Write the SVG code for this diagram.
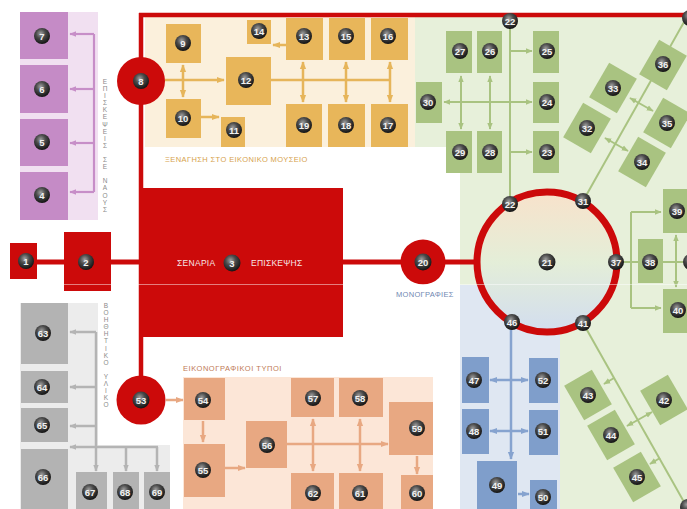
<svg xmlns="http://www.w3.org/2000/svg" width="687" height="509" viewBox="0 0 687 509">
<defs>
<radialGradient id="ball" cx="0.42" cy="0.35" r="0.65">
<stop offset="0" stop-color="#a0a0a0"/><stop offset="0.45" stop-color="#4a4a4a"/><stop offset="1" stop-color="#141414"/>
</radialGradient>
<linearGradient id="ringfill" x1="0" y1="0" x2="0" y2="1">
<stop offset="0" stop-color="#f8e2cb"/><stop offset="0.5" stop-color="#e4eed8"/><stop offset="1" stop-color="#d2ddef"/>
</linearGradient>
<marker id="ap" viewBox="0 0 10 10" refX="9" refY="5" markerWidth="7" markerHeight="7" markerUnits="userSpaceOnUse" orient="auto-start-reverse"><path d="M0,1 L10,5 L0,9 z" fill="#c78ec8"/></marker>
<marker id="ao" viewBox="0 0 10 10" refX="9" refY="5" markerWidth="8" markerHeight="8" markerUnits="userSpaceOnUse" orient="auto-start-reverse"><path d="M0,1 L10,5 L0,9 z" fill="#e6b55a"/></marker>
<marker id="ag" viewBox="0 0 10 10" refX="9" refY="5" markerWidth="7" markerHeight="7" markerUnits="userSpaceOnUse" orient="auto-start-reverse"><path d="M0,1 L10,5 L0,9 z" fill="#a9c381"/></marker>
<marker id="ab" viewBox="0 0 10 10" refX="9" refY="5" markerWidth="8" markerHeight="8" markerUnits="userSpaceOnUse" orient="auto-start-reverse"><path d="M0,1 L10,5 L0,9 z" fill="#86a3cf"/></marker>
<marker id="as" viewBox="0 0 10 10" refX="9" refY="5" markerWidth="8" markerHeight="8" markerUnits="userSpaceOnUse" orient="auto-start-reverse"><path d="M0,1 L10,5 L0,9 z" fill="#e8a882"/></marker>
<marker id="ay" viewBox="0 0 10 10" refX="9" refY="5" markerWidth="7" markerHeight="7" markerUnits="userSpaceOnUse" orient="auto-start-reverse"><path d="M0,1 L10,5 L0,9 z" fill="#b4b4b4"/></marker>
</defs>
<style>
.b{fill:url(#ball)}
.n{font-family:"Liberation Sans",Arial,sans-serif;font-weight:bold;font-size:9.5px;fill:#f2f2f2;text-anchor:middle;dominant-baseline:central}
.red{fill:#cc0a0a}
.sp{fill:#c58bc6}.so{fill:#e8b65a}.sg{fill:#a9c381}.sb{fill:#7f9ecb}.ss{fill:#e8a882}.sy{fill:#b3b3b3}
.lp{stroke:#c78ec8;stroke-width:2.2;fill:none}
.lo{stroke:#e6b55a;stroke-width:2.5;fill:none}
.lg{stroke:#a9c381;stroke-width:2;fill:none}
.lb{stroke:#86a3cf;stroke-width:2.5;fill:none}
.ls{stroke:#e8a882;stroke-width:2.5;fill:none}
.ly{stroke:#b4b4b4;stroke-width:2.5;fill:none}
.t{font-family:"Liberation Sans",Arial,sans-serif;font-size:7.5px;letter-spacing:0.6px}
.t8{font-family:"Liberation Sans",Arial,sans-serif;font-size:8.5px;letter-spacing:0.8px}
.vt{font-family:"Liberation Sans",Arial,sans-serif;font-size:6.5px;fill:#8a8a8a;writing-mode:vertical-rl;text-orientation:upright;letter-spacing:0.1px}
</style>
<rect width="687" height="509" fill="#ffffff"/>
<!-- background panels -->
<rect x="20" y="12" width="78" height="208" fill="#f1e0f1"/>
<rect x="20" y="303" width="78" height="206" fill="#ececec"/>
<rect x="68" y="445" width="102" height="64" fill="#ececec"/>
<rect x="145" y="17" width="270" height="130" fill="#fbf0dc"/>
<path d="M415,17 H687 V509 H460 V147 H415 Z" fill="#e7f0da"/>
<rect x="460" y="285" width="100" height="224" fill="#dfe7f2"/>
<rect x="183" y="377" width="250" height="132" fill="#fce6d7"/>

<!-- labels -->
<text class="vt" x="105" y="78">ΕΠΙΣΚΕΨΕΙΣ ΣΕ ΝΑΟΥΣ</text>
<text class="vt" x="106" y="302">ΒΟΗΘΗΤΙΚΟ ΥΛΙΚΟ</text>
<text class="t" x="165" y="162" fill="#d6a24c" textLength="143" lengthAdjust="spacing">ΞΕΝΑΓΗΣΗ ΣΤΟ ΕΙΚΟΝΙΚΟ ΜΟΥΣΕΙΟ</text>
<text class="t" x="183" y="371" fill="#c07a55" textLength="99" lengthAdjust="spacing">ΕΙΚΟΝΟΓΡΑΦΙΚΟΙ ΤΥΠΟΙ</text>
<text class="t" x="396" y="297" fill="#6f88b2" textLength="58" lengthAdjust="spacing">ΜΟΝΟΓΡΑΦΙΕΣ</text>

<!-- red spine -->
<g id="spine">
<path d="M141,13 V382" stroke="#cc0a0a" stroke-width="4.5" fill="none"/>
<path d="M139,15 H687" stroke="#cc0a0a" stroke-width="4.5" fill="none"/>
<path d="M36,262 H482" stroke="#cc0a0a" stroke-width="5" fill="none"/>
</g>

<g id="connectors">
<!-- purple -->
<path class="lp" d="M94,34 V192"/>
<path class="lp" d="M94,34 H70" marker-end="url(#ap)"/>
<path class="lp" d="M94,89 H70" marker-end="url(#ap)"/>
<path class="lp" d="M94,143 H70" marker-end="url(#ap)"/>
<path class="lp" d="M94,192 H70" marker-end="url(#ap)"/>
<!-- orange -->
<path class="lo" d="M165,80 H224" marker-end="url(#ao)"/>
<path class="lo" d="M183,65 V97" marker-start="url(#ao)" marker-end="url(#ao)"/>
<path class="lo" d="M201,117 H219" marker-end="url(#ao)"/>
<path class="lo" d="M286,45 H273" marker-end="url(#ao)"/>
<path class="lo" d="M271,80 H391"/>
<path class="lo" d="M303,62 V102" marker-start="url(#ao)" marker-end="url(#ao)"/>
<path class="lo" d="M346,62 V102" marker-start="url(#ao)" marker-end="url(#ao)"/>
<path class="lo" d="M390,62 V102" marker-start="url(#ao)" marker-end="url(#ao)"/>
<!-- green -->
<path class="lg" d="M510,21 V197"/>
<path class="lg" d="M510,51 H532" marker-end="url(#ag)"/>
<path class="lg" d="M510,152 H532" marker-end="url(#ag)"/>
<path class="lg" d="M444,102 H532" marker-start="url(#ag)" marker-end="url(#ag)"/>
<path class="lg" d="M461,76 V129" marker-start="url(#ag)" marker-end="url(#ag)"/>
<path class="lg" d="M490,76 V129" marker-start="url(#ag)" marker-end="url(#ag)"/>
<path class="lg" d="M583,201 L688,15"/>
<path class="lg" d="M630,98 L653,111" marker-start="url(#ag)" marker-end="url(#ag)"/>
<path class="lg" d="M605,138 L628,151" marker-start="url(#ag)" marker-end="url(#ag)"/>
<path class="lg" d="M616,262 H687"/>
<path class="lg" d="M631,212 V308"/>
<path class="lg" d="M631,212 H661" marker-end="url(#ag)"/>
<path class="lg" d="M631,308 H661" marker-end="url(#ag)"/>
<path class="lg" d="M676,235 V287" marker-start="url(#ag)" marker-end="url(#ag)"/>
<path class="lg" d="M583,323 L688,509"/>
<path class="lg" d="M614,378 L604,384" marker-end="url(#ag)"/>
<path class="lg" d="M652,412 L627,426" marker-start="url(#ag)" marker-end="url(#ag)"/>
<path class="lg" d="M660,458 L650,464" marker-end="url(#ag)"/>
<!-- blue -->
<path class="lb" d="M511,330 V459" marker-end="url(#ab)"/>
<path class="lb" d="M490,380 H528" marker-start="url(#ab)" marker-end="url(#ab)"/>
<path class="lb" d="M490,431 H528" marker-start="url(#ab)" marker-end="url(#ab)"/>
<path class="lb" d="M518,494 H529" marker-end="url(#ab)"/>
<!-- salmon -->
<path class="ls" d="M166,400 H183" marker-end="url(#as)"/>
<path class="ls" d="M203,421 V442" marker-end="url(#as)"/>
<path class="ls" d="M225,468 H245" marker-end="url(#as)"/>
<path class="ls" d="M287,444 H388" marker-end="url(#as)"/>
<path class="ls" d="M313,419 V471" marker-start="url(#as)" marker-end="url(#as)"/>
<path class="ls" d="M360,419 V471" marker-start="url(#as)" marker-end="url(#as)"/>
<path class="ls" d="M417,456 V474" marker-end="url(#as)"/>
<!-- grey -->
<path class="ly" d="M96,332 V447"/>
<path class="ly" d="M96,332 H70" marker-end="url(#ay)"/>
<path class="ly" d="M96,387 H70" marker-end="url(#ay)"/>
<path class="ly" d="M96,426 H70" marker-end="url(#ay)"/>
<path class="ly" d="M158,447 H70" marker-end="url(#ay)"/>
<path class="ly" d="M96,447 V471" marker-end="url(#ay)"/>
<path class="ly" d="M126,447 V471" marker-end="url(#ay)"/>
<path class="ly" d="M157,447 V471" marker-end="url(#ay)"/>
</g>

<!-- red nodes -->
<g id="n1"><rect class="red" x="10" y="243" width="27" height="36"/><circle class="b" cx="26" cy="261" r="8"/><text class="n" x="26" y="261">1</text></g>
<g id="n2"><rect class="red" x="64" y="232" width="47" height="59"/><circle class="b" cx="86" cy="262" r="8"/><text class="n" x="86" y="262">2</text></g>
<g id="n3"><rect class="red" x="143" y="188" width="200" height="149"/>
<text class="t8" x="177" y="266" fill="#f6e6e6" textLength="39" lengthAdjust="spacing">ΣΕΝΑΡΙΑ</text>
<circle class="b" cx="232" cy="263" r="8.5"/><text class="n" x="232" y="263">3</text>
<text class="t8" x="251" y="266" fill="#f6e6e6" textLength="52" lengthAdjust="spacing">ΕΠΙΣΚΕΨΗΣ</text></g>
<g id="n8"><circle class="red" cx="141" cy="81" r="24"/><circle class="b" cx="141" cy="81" r="8"/><text class="n" x="141" y="81">8</text></g>
<g id="n53"><circle class="red" cx="141" cy="400" r="24.5"/><circle class="b" cx="141" cy="400" r="8.5"/><text class="n" x="141" y="400">53</text></g>
<g id="n20"><circle class="red" cx="423" cy="262" r="22.5"/><circle class="b" cx="423" cy="262" r="8.5"/><text class="n" x="423" y="262">20</text></g>
<g id="n21"><circle cx="547" cy="262" r="70" fill="url(#ringfill)" stroke="#cc0a0a" stroke-width="7"/><circle class="b" cx="547" cy="262" r="8.5"/><text class="n" x="547" y="262">21</text></g>

<!-- purple -->
<g id="n7"><rect class="sp" x="20" y="12" width="48" height="47"/><circle class="b" cx="42" cy="36" r="8"/><text class="n" x="42" y="36">7</text></g>
<g id="n6"><rect class="sp" x="20" y="65" width="48" height="48"/><circle class="b" cx="42" cy="89" r="8"/><text class="n" x="42" y="89">6</text></g>
<g id="n5"><rect class="sp" x="20" y="119" width="48" height="47"/><circle class="b" cx="42" cy="142" r="8"/><text class="n" x="42" y="142">5</text></g>
<g id="n4"><rect class="sp" x="20" y="172" width="48" height="48"/><circle class="b" cx="42" cy="195" r="8"/><text class="n" x="42" y="195">4</text></g>

<!-- orange -->
<g id="n9"><rect class="so" x="166" y="24" width="35" height="39"/><circle class="b" cx="183" cy="43" r="8"/><text class="n" x="183" y="43">9</text></g>
<g id="n10"><rect class="so" x="166" y="99" width="35" height="39"/><circle class="b" cx="183" cy="118" r="8"/><text class="n" x="183" y="118">10</text></g>
<g id="n11"><rect class="so" x="221" y="117" width="24" height="30"/><circle class="b" cx="234" cy="130" r="8"/><text class="n" x="234" y="130">11</text></g>
<g id="n12"><rect class="so" x="226" y="57" width="45" height="48"/><circle class="b" cx="246" cy="80" r="8"/><text class="n" x="246" y="80">12</text></g>
<g id="n14"><rect class="so" x="247" y="20" width="24" height="24"/><circle class="b" cx="259" cy="31" r="8"/><text class="n" x="259" y="31">14</text></g>
<g id="n13"><rect class="so" x="286" y="18" width="37" height="42"/><circle class="b" cx="304" cy="36" r="8"/><text class="n" x="304" y="36">13</text></g>
<g id="n15"><rect class="so" x="329" y="18" width="36" height="42"/><circle class="b" cx="346" cy="36" r="8"/><text class="n" x="346" y="36">15</text></g>
<g id="n16"><rect class="so" x="371" y="18" width="37" height="42"/><circle class="b" cx="388" cy="36" r="8"/><text class="n" x="388" y="36">16</text></g>
<g id="n19"><rect class="so" x="286" y="104" width="36" height="43"/><circle class="b" cx="304" cy="125" r="8"/><text class="n" x="304" y="125">19</text></g>
<g id="n18"><rect class="so" x="328" y="104" width="37" height="43"/><circle class="b" cx="346" cy="125" r="8"/><text class="n" x="346" y="125">18</text></g>
<g id="n17"><rect class="so" x="371" y="104" width="37" height="43"/><circle class="b" cx="388" cy="125" r="8"/><text class="n" x="388" y="125">17</text></g>

<!-- green -->
<g id="n22a"><circle class="b" cx="510" cy="21" r="8"/><text class="n" x="510" y="21">22</text></g>
<g id="n27"><rect class="sg" x="446" y="31" width="26" height="42"/><circle class="b" cx="460" cy="51" r="8"/><text class="n" x="460" y="51">27</text></g>
<g id="n26"><rect class="sg" x="477" y="31" width="25" height="42"/><circle class="b" cx="490" cy="51" r="8"/><text class="n" x="490" y="51">26</text></g>
<g id="n25"><rect class="sg" x="533" y="31" width="26" height="42"/><circle class="b" cx="547" cy="51" r="8"/><text class="n" x="547" y="51">25</text></g>
<g id="n30"><rect class="sg" x="416" y="82" width="26" height="41"/><circle class="b" cx="428" cy="102" r="8"/><text class="n" x="428" y="102">30</text></g>
<g id="n24"><rect class="sg" x="533" y="82" width="26" height="41"/><circle class="b" cx="547" cy="102" r="8"/><text class="n" x="547" y="102">24</text></g>
<g id="n29"><rect class="sg" x="446" y="131" width="26" height="42"/><circle class="b" cx="460" cy="152" r="8"/><text class="n" x="460" y="152">29</text></g>
<g id="n28"><rect class="sg" x="477" y="131" width="25" height="42"/><circle class="b" cx="490" cy="152" r="8"/><text class="n" x="490" y="152">28</text></g>
<g id="n23"><rect class="sg" x="533" y="131" width="26" height="42"/><circle class="b" cx="547" cy="152" r="8"/><text class="n" x="547" y="152">23</text></g>
<g id="n33"><rect class="sg" x="-16" y="-20" width="32" height="40" transform="translate(613,88) rotate(30)"/><circle class="b" cx="613" cy="88" r="8"/><text class="n" x="613" y="88">33</text></g>
<g id="n32"><rect class="sg" x="-16" y="-20" width="32" height="40" transform="translate(587,128) rotate(30)"/><circle class="b" cx="587" cy="128" r="8"/><text class="n" x="587" y="128">32</text></g>
<g id="n36"><rect class="sg" x="-16" y="-20" width="32" height="40" transform="translate(663,65) rotate(30)"/><circle class="b" cx="663" cy="64" r="8"/><text class="n" x="663" y="64">36</text></g>
<g id="n35"><rect class="sg" x="-16" y="-20" width="32" height="40" transform="translate(667,123) rotate(30)"/><circle class="b" cx="667" cy="123" r="8"/><text class="n" x="667" y="123">35</text></g>
<g id="n34"><rect class="sg" x="-16" y="-20" width="32" height="40" transform="translate(642,162) rotate(30)"/><circle class="b" cx="642" cy="162" r="8"/><text class="n" x="642" y="162">34</text></g>
<g id="nTR"><circle class="b" cx="690" cy="18" r="8"/></g>
<g id="n22"><circle class="b" cx="510" cy="204" r="8"/><text class="n" x="510" y="204">22</text></g>
<g id="n31"><circle class="b" cx="583" cy="201" r="8"/><text class="n" x="583" y="201">31</text></g>
<g id="n37"><circle class="b" cx="616" cy="262" r="8"/><text class="n" x="616" y="262">37</text></g>
<g id="n41"><circle class="b" cx="583" cy="323" r="8"/><text class="n" x="583" y="323">41</text></g>
<g id="n46"><circle class="b" cx="512" cy="322" r="8"/><text class="n" x="512" y="322">46</text></g>
<g id="n38"><rect class="sg" x="638" y="239" width="25" height="44"/><circle class="b" cx="650" cy="262" r="8"/><text class="n" x="650" y="262">38</text></g>
<g id="n39"><rect class="sg" x="663" y="189" width="26" height="44"/><circle class="b" cx="677" cy="211" r="8"/><text class="n" x="677" y="211">39</text></g>
<g id="n40"><rect class="sg" x="663" y="289" width="26" height="44"/><circle class="b" cx="678" cy="310" r="8"/><text class="n" x="678" y="310">40</text></g>
<g id="nR"><circle class="b" cx="691" cy="262" r="8"/></g>
<g id="n43"><rect class="sg" x="-16" y="-20" width="32" height="40" transform="translate(588,395) rotate(-30)"/><circle class="b" cx="588" cy="395" r="8"/><text class="n" x="588" y="395">43</text></g>
<g id="n42"><rect class="sg" x="-16" y="-20" width="32" height="40" transform="translate(664,400) rotate(-30)"/><circle class="b" cx="664" cy="400" r="8"/><text class="n" x="664" y="400">42</text></g>
<g id="n44"><rect class="sg" x="-16" y="-20" width="32" height="40" transform="translate(611,435) rotate(-30)"/><circle class="b" cx="611" cy="435" r="8"/><text class="n" x="611" y="435">44</text></g>
<g id="n45"><rect class="sg" x="-16" y="-20" width="32" height="40" transform="translate(637,477) rotate(-30)"/><circle class="b" cx="637" cy="477" r="8"/><text class="n" x="637" y="477">45</text></g>
<g id="nBR"><circle class="b" cx="688" cy="507" r="8"/></g>

<!-- blue -->
<g id="n47"><rect class="sb" x="462" y="357" width="27" height="46"/><circle class="b" cx="474" cy="380" r="8"/><text class="n" x="474" y="380">47</text></g>
<g id="n52"><rect class="sb" x="529" y="358" width="29" height="45"/><circle class="b" cx="543" cy="380" r="8"/><text class="n" x="543" y="380">52</text></g>
<g id="n48"><rect class="sb" x="462" y="409" width="27" height="45"/><circle class="b" cx="474" cy="431" r="8"/><text class="n" x="474" y="431">48</text></g>
<g id="n51"><rect class="sb" x="529" y="410" width="29" height="45"/><circle class="b" cx="543" cy="431" r="8"/><text class="n" x="543" y="431">51</text></g>
<g id="n49"><rect class="sb" x="477" y="461" width="40" height="48"/><circle class="b" cx="497" cy="485" r="8"/><text class="n" x="497" y="485">49</text></g>
<g id="n50"><rect class="sb" x="530" y="480" width="27" height="29"/><circle class="b" cx="543" cy="497" r="8"/><text class="n" x="543" y="497">50</text></g>

<!-- salmon -->
<g id="n54"><rect class="ss" x="184" y="378" width="41" height="42"/><circle class="b" cx="203" cy="400" r="8"/><text class="n" x="203" y="400">54</text></g>
<g id="n55"><rect class="ss" x="184" y="444" width="41" height="53"/><circle class="b" cx="203" cy="470" r="8"/><text class="n" x="203" y="470">55</text></g>
<g id="n56"><rect class="ss" x="246" y="421" width="41" height="47"/><circle class="b" cx="267" cy="445" r="8"/><text class="n" x="267" y="445">56</text></g>
<g id="n57"><rect class="ss" x="291" y="378" width="43" height="39"/><circle class="b" cx="313" cy="398" r="8"/><text class="n" x="313" y="398">57</text></g>
<g id="n58"><rect class="ss" x="339" y="378" width="44" height="39"/><circle class="b" cx="360" cy="398" r="8"/><text class="n" x="360" y="398">58</text></g>
<g id="n59"><rect class="ss" x="389" y="402" width="44" height="53"/><circle class="b" cx="417" cy="428" r="8"/><text class="n" x="417" y="428">59</text></g>
<g id="n62"><rect class="ss" x="291" y="473" width="43" height="36"/><circle class="b" cx="313" cy="493" r="8"/><text class="n" x="313" y="493">62</text></g>
<g id="n61"><rect class="ss" x="339" y="473" width="44" height="36"/><circle class="b" cx="360" cy="493" r="8"/><text class="n" x="360" y="493">61</text></g>
<g id="n60"><rect class="ss" x="401" y="475" width="32" height="34"/><circle class="b" cx="417" cy="493" r="8"/><text class="n" x="417" y="493">60</text></g>

<!-- grey -->
<g id="n63"><rect class="sy" x="21" y="303" width="47" height="61"/><circle class="b" cx="43" cy="333" r="8"/><text class="n" x="43" y="333">63</text></g>
<g id="n64"><rect class="sy" x="21" y="371" width="47" height="32"/><circle class="b" cx="42" cy="387" r="8"/><text class="n" x="42" y="387">64</text></g>
<g id="n65"><rect class="sy" x="21" y="408" width="47" height="34"/><circle class="b" cx="42" cy="425" r="8"/><text class="n" x="42" y="425">65</text></g>
<g id="n66"><rect class="sy" x="21" y="449" width="47" height="60"/><circle class="b" cx="43" cy="477" r="8"/><text class="n" x="43" y="477">66</text></g>
<g id="n67"><rect class="sy" x="76" y="472" width="31" height="37"/><circle class="b" cx="90" cy="492" r="8"/><text class="n" x="90" y="492">67</text></g>
<g id="n68"><rect class="sy" x="113" y="472" width="26" height="37"/><circle class="b" cx="125" cy="492" r="8"/><text class="n" x="125" y="492">68</text></g>
<g id="n69"><rect class="sy" x="144" y="472" width="26" height="37"/><circle class="b" cx="157" cy="492" r="8"/><text class="n" x="157" y="492">69</text></g>

<line x1="0" y1="284.5" x2="687" y2="284.5" stroke="#ffffff" stroke-width="0.8" opacity="0.6"/>
</svg>
